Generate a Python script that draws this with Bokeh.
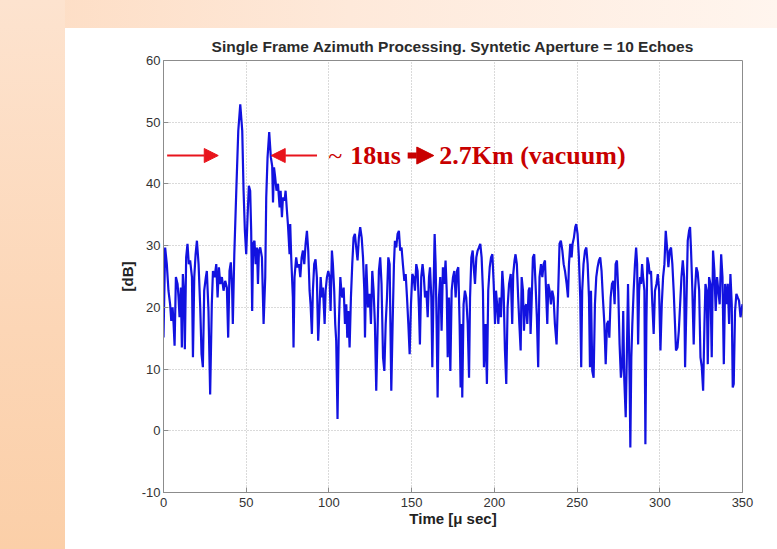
from bokeh.plotting import figure
from bokeh.models import (Arrow, NormalHead, Label, FixedTicker, Range1d, Spacer,
                          GlobalInlineStyleSheet)
from bokeh.layouts import row, column
from bokeh.embed import file_html
from bokeh.resources import INLINE

# ---------------- data ----------------
TITLE = "Single Frame Azimuth Processing. Syntetic Aperture = 10 Echoes"
X_LABEL = "Time [\u03bc sec]"
Y_LABEL = "[dB]"
X_TICKS = [0, 50, 100, 150, 200, 250, 300, 350]
Y_TICKS = [-10, 0, 10, 20, 30, 40, 50, 60]
Y_TICK_TEXT = {-10: "-10"}

T_US = [
    0.0, 1.0, 2.0, 3.0, 4.0, 4.7, 5.5, 6.1, 6.7, 7.5, 8.5, 9.1, 9.7, 10.5, 11.1, 11.7,
    12.5, 12.9, 13.7, 14.5, 15.3, 16.1, 17.2, 17.8, 18.6, 19.4, 20.2, 21.2, 22.2, 23.0,
    23.8, 24.6, 25.6, 26.2, 27.2, 28.2, 29.2, 29.9, 30.9, 31.9, 32.7, 33.5, 34.3, 35.3,
    36.3, 37.3, 38.3, 39.1, 39.9, 40.7, 41.5, 41.9, 42.8, 44.0, 45.2, 46.4, 47.6, 48.4,
    49.2, 50.0, 50.8, 51.6, 52.4, 53.0, 53.6, 54.2, 55.0, 55.7, 56.5, 57.1, 57.7, 58.5,
    59.5, 60.5, 61.5, 62.1, 62.9, 63.9, 64.9, 65.7, 66.2, 66.8, 67.5, 68.3, 69.2, 70.2,
    70.8, 71.6, 72.2, 73.2, 73.8, 74.6, 75.2, 76.2, 76.6, 77.2, 78.2, 78.6, 79.2, 80.2,
    81.0, 81.9, 82.7, 83.5, 84.3, 85.1, 85.9, 86.7, 87.5, 88.3, 88.9, 89.7, 90.3, 91.1,
    91.9, 92.7, 93.5, 94.4, 95.0, 95.8, 96.4, 97.4, 98.0, 98.8, 99.6, 100.4, 101.0,
    101.8, 102.4, 103.2, 103.8, 104.4, 105.2, 106.0, 106.9, 107.5, 108.1, 108.9, 109.7,
    110.5, 111.1, 111.7, 112.5, 113.3, 114.1, 114.9, 115.7, 116.5, 117.3, 118.1, 118.9,
    119.8, 120.6, 121.4, 121.8, 122.6, 123.6, 124.6, 125.4, 126.2, 127.0, 127.8, 128.6,
    129.4, 130.2, 131.0, 131.8, 132.7, 133.5, 134.3, 135.1, 135.9, 136.7, 137.7, 138.5,
    139.3, 139.9, 140.7, 141.5, 142.3, 143.1, 143.9, 144.7, 145.6, 146.4, 147.2, 148.0,
    148.8, 149.6, 150.4, 151.2, 152.0, 152.8, 153.6, 154.4, 155.0, 155.8, 156.6, 157.4,
    158.1, 158.9, 159.7, 160.5, 161.1, 161.9, 162.5, 163.1, 163.9, 164.5, 165.1, 165.7,
    166.5, 167.3, 168.1, 168.9, 169.7, 170.5, 171.2, 171.8, 172.6, 173.4, 174.2, 175.0,
    175.8, 176.6, 177.4, 178.2, 179.0, 179.6, 180.2, 180.6, 181.4, 182.2, 183.0, 183.9,
    184.7, 185.3, 186.1, 186.9, 187.7, 188.3, 189.1, 189.9, 190.7, 191.5, 192.3, 193.1,
    193.7, 194.7, 195.5, 196.3, 197.2, 198.0, 198.8, 199.6, 200.4, 201.0, 201.8, 202.4,
    203.2, 204.0, 204.8, 205.6, 206.4, 207.2, 208.0, 208.9, 209.9, 210.8, 211.4, 212.2,
    212.8, 213.6, 214.4, 215.1, 215.9, 216.5, 217.3, 217.9, 218.5, 219.3, 219.9, 220.7,
    221.3, 221.9, 222.5, 223.3, 224.1, 224.9, 225.7, 226.5, 227.3, 228.2, 229.0, 229.8,
    230.6, 231.4, 232.0, 232.6, 233.4, 234.2, 235.0, 235.8, 236.6, 237.6, 238.6, 239.4,
    240.2, 241.1, 241.9, 242.7, 243.7, 244.5, 245.1, 245.9, 246.7, 247.3, 248.1, 248.9,
    249.5, 250.3, 251.1, 251.9, 252.5, 253.1, 253.9, 254.8, 255.6, 256.4, 257.2, 257.8,
    258.4, 259.2, 260.0, 260.8, 261.6, 262.4, 263.2, 264.0, 264.8, 265.6, 266.5, 267.3,
    268.1, 268.9, 269.5, 270.3, 271.1, 271.9, 272.7, 273.3, 274.1, 274.9, 275.7, 276.5,
    277.3, 277.9, 278.5, 279.4, 280.2, 280.8, 281.2, 281.8, 282.2, 282.8, 283.4, 284.2,
    285.0, 285.7, 286.3, 286.9, 287.5, 288.1, 288.7, 289.3, 289.9, 290.7, 291.3, 291.9,
    292.5, 293.3, 293.9, 294.7, 295.5, 296.3, 297.1, 298.0, 298.8, 299.6, 300.4, 301.2,
    302.0, 302.8, 303.6, 304.4, 305.2, 306.0, 306.8, 307.6, 308.4, 309.2, 309.8, 310.7,
    311.5, 312.3, 313.1, 313.9, 314.7, 315.3, 316.1, 316.9, 317.7, 318.3, 318.9, 319.7,
    320.5, 321.3, 322.1, 322.9, 323.8, 324.6, 325.4, 326.2, 327.0, 327.6, 328.4, 329.0,
    329.8, 330.6, 331.4, 332.2, 333.0, 333.8, 334.6, 335.4, 336.2, 337.1, 337.9, 338.7,
    339.5, 340.3, 341.1, 341.9, 342.7, 343.5, 344.1, 344.7, 345.5, 346.3, 347.1, 347.9,
    348.8, 350.0,
]

DB = [
    15.1, 29.7, 27.0, 22.7, 20.5, 17.8, 20.0, 17.3, 13.8, 24.9, 23.8, 21.6, 18.4, 23.2, 13.5, 25.4,
    21.6, 13.2, 28.1, 30.3, 27.0, 27.6, 24.9, 11.9, 24.9, 28.6, 30.8, 27.0, 20.0, 12.4,
    10.3, 22.7, 24.9, 25.9, 19.4, 5.9, 20.5, 25.9, 24.9, 27.0, 21.6, 26.5, 23.8, 24.9,
    22.7, 24.3, 23.2, 15.1, 25.9, 27.3, 22.7, 17.3, 28.6, 38.9, 48.6, 52.9, 48.6, 38.9,
    32.4, 28.6, 34.6, 39.7, 38.9, 32.4, 19.4, 30.3, 30.8, 27.0, 29.7, 23.8, 29.2, 29.7,
    28.1, 17.3, 24.9, 37.8, 44.3, 48.4, 44.3, 42.9, 37.0, 42.7, 41.1, 38.9, 40.0, 36.2,
    38.9, 34.6, 37.8, 37.3, 38.9, 35.7, 33.5, 28.6, 33.5, 28.1, 21.6, 13.5, 24.9, 28.1,
    26.5, 27.0, 24.9, 28.1, 29.2, 27.0, 30.3, 32.4, 29.2, 22.7, 20.5, 15.7, 22.7, 27.0,
    27.8, 24.9, 14.6, 20.5, 24.9, 21.6, 23.2, 17.3, 22.7, 24.9, 25.9, 24.9, 19.4,
    29.2, 27.0, 22.7, 17.3, 14.6, 1.9, 17.3, 24.9, 22.7, 21.6, 23.2, 17.3,
    20.5, 15.1, 19.4, 13.5, 21.6, 27.0, 31.3, 31.9, 29.7, 27.6, 31.3, 33.0,
    31.3, 28.1, 22.7, 15.1, 27.0, 20.0, 22.2, 17.3, 25.9, 22.7, 17.3, 6.5,
    16.2, 25.9, 28.1, 23.8, 11.9, 9.7, 17.3, 21.6, 28.1, 27.0, 6.5, 17.3,
    27.0, 30.8, 29.7, 31.9, 32.4, 29.2, 29.7, 27.0, 24.3, 25.4, 21.6, 17.3,
    12.4, 20.5, 25.4, 24.9, 22.7, 27.0, 25.9, 20.0, 14.0, 24.9, 27.0, 24.9,
    21.6, 22.7, 18.4, 24.9, 26.5, 21.6, 10.3, 20.5, 31.9, 27.0, 17.3, 5.4,
    21.6, 24.9, 16.2, 26.5, 23.8, 27.6, 22.7, 11.9, 21.6, 9.7, 22.7, 24.9,
    25.9, 21.6, 25.9, 26.5, 17.3, 7.0, 17.3, 5.4, 20.5, 22.7, 21.6, 17.3,
    8.6, 21.6, 28.1, 29.2, 25.9, 23.8, 28.1, 29.2, 29.7, 30.3, 28.1, 22.7,
    10.3, 17.3, 7.6, 22.7, 26.5, 28.1, 28.6, 23.8, 17.3, 22.7, 20.0, 17.3,
    21.6, 18.4, 25.9, 22.7, 13.0, 7.6, 20.0, 23.8, 25.4, 17.3, 25.4, 27.6,
    28.6, 27.0, 21.6, 17.3, 13.0, 24.9, 22.7, 16.2, 20.0, 20.5, 17.3, 22.7,
    23.2, 15.7, 20.5, 28.1, 28.6, 23.8, 18.4, 10.3, 24.9, 27.0, 24.9, 27.0,
    27.6, 21.6, 17.3, 23.8, 22.7, 20.5, 22.7, 21.6, 17.3, 14.0, 22.7, 30.3,
    30.8, 29.2, 27.0, 25.9, 23.8, 21.6, 27.0, 30.3, 28.1, 30.3, 31.3, 33.0,
    33.5, 31.9, 28.1, 21.6, 10.3, 22.7, 27.0, 29.2, 29.7, 27.0, 21.6, 10.3,
    22.7, 9.7, 8.6, 20.5, 24.9, 26.5, 27.6, 28.1, 25.9, 21.6, 17.3, 10.8,
    17.3, 17.8, 15.1, 21.6, 23.8, 24.3, 20.5, 27.0, 27.6, 22.7, 14.0, 8.6,
    10.8, 19.4, 8.6, 2.2, 14.0, 23.8, 17.3, 7.6, -2.7, 11.9, 17.3, 22.7,
    27.0, 29.7, 27.0, 14.0, 22.7, 24.9, 23.8, 27.0, 24.9, 22.7, -2.2, 17.3,
    28.1, 27.0, 25.4, 25.9, 20.5, 15.7, 22.7, 23.8, 25.4, 22.7, 13.0, 20.5,
    24.9, 27.0, 32.4, 29.7, 26.5, 29.2, 29.7, 27.0, 22.7, 17.3, 13.0, 13.5,
    16.2, 20.5, 24.9, 27.6, 24.9, 10.3, 20.5, 30.8, 32.4, 33.0, 29.2, 22.7,
    14.0, 22.7, 26.5, 25.7, 22.7, 11.9, 10.3, 6.5, 17.3, 23.8, 22.7, 10.8,
    24.9, 23.8, 11.9, 29.2, 25.9, 19.4, 24.9, 22.7, 20.5, 28.6, 24.9, 10.8,
    23.8, 20.5, 23.8, 17.3, 25.4, 20.5, 7.0, 7.6, 19.4, 22.2, 21.6, 21.1,
    18.4, 20.5,
]

# annotation (data units: time in us, level in dB)
ANNOT_DB = 44.6
ANNOT_TEXT_BASE_DB = 44.6
LEFT_ARROW_T = (2.2, 33.1)
RIGHT_ARROW_T = (92.8, 65.1)
BIG_ARROW_T = (147.6, 163.4)
TILDE_T = 99.6
DELAY_T = 112.9
RESULT_T = 166.7
DELAY_TEXT = "18us"
RESULT_TEXT = "2.7Km (vacuum)"

# ---------------- figure ----------------
p = figure(width=712, height=521,
           x_range=Range1d(0, 350), y_range=Range1d(-10, 60),
           output_backend="svg", toolbar_location=None,
           min_border_left=98, min_border_right=35,
           min_border_top=32, min_border_bottom=57,
           background_fill_color="white", border_fill_color="white")

p.title.text = TITLE
p.title.align = "center"
p.title.text_font = "Liberation Sans"
p.title.text_font_size = "15.5px"
p.title.text_font_style = "bold"
p.title.text_color = "#2b2b2b"
p.title.standoff = 12

p.line(T_US, DB, line_color="#1212e0", line_width=2.2)

p.xaxis.ticker = FixedTicker(ticks=X_TICKS, minor_ticks=[])
p.yaxis.ticker = FixedTicker(ticks=Y_TICKS, minor_ticks=[])
p.yaxis.major_label_overrides = Y_TICK_TEXT
p.xaxis.axis_label = X_LABEL
p.yaxis.axis_label = Y_LABEL

for ax in (p.xaxis[0], p.yaxis[0]):
    ax.axis_line_color = "#8c8c8c"
    ax.major_tick_line_color = "#8c8c8c"
    ax.major_tick_in = 5
    ax.major_tick_out = 0
    ax.major_label_text_font = "Liberation Sans"
    ax.major_label_text_font_size = "13px"
    ax.major_label_text_color = "#333333"
    ax.axis_label_text_font = "Liberation Sans"
    ax.axis_label_text_font_size = "15px"
    ax.axis_label_text_font_style = "bold"
    ax.axis_label_text_color = "#222222"

p.xaxis.major_label_standoff = 5
p.xaxis.axis_label_standoff = 0
p.yaxis.major_label_standoff = 3
p.yaxis.axis_label_standoff = 3

p.grid.grid_line_color = "#b4b4b4"
p.grid.grid_line_dash = "1 2"
p.grid.grid_line_width = 1
p.outline_line_color = "#8c8c8c"
p.outline_line_width = 1

ARROW_RED = "#e8141c"
TEXT_RED = "#c80000"

p.add_layout(Arrow(x_start=LEFT_ARROW_T[0], y_start=ANNOT_DB,
                   x_end=LEFT_ARROW_T[1], y_end=ANNOT_DB,
                   line_color=ARROW_RED, line_width=2,
                   end=NormalHead(size=14, fill_color=ARROW_RED, line_color=ARROW_RED)))
p.add_layout(Arrow(x_start=RIGHT_ARROW_T[0], y_start=ANNOT_DB,
                   x_end=RIGHT_ARROW_T[1], y_end=ANNOT_DB,
                   line_color=ARROW_RED, line_width=2,
                   end=NormalHead(size=14, fill_color=ARROW_RED, line_color=ARROW_RED)))
# the heavy arrow between the two numbers
p.add_layout(Arrow(x_start=BIG_ARROW_T[0], y_start=ANNOT_DB,
                   x_end=BIG_ARROW_T[1], y_end=ANNOT_DB,
                   line_color=TEXT_RED, line_width=6,
                   end=NormalHead(size=17, fill_color=TEXT_RED, line_color=TEXT_RED)))

p.add_layout(Label(x=TILDE_T, y=ANNOT_TEXT_BASE_DB, text="~",
                   text_font="Liberation Serif", text_font_size="26px",
                   text_color=TEXT_RED, text_baseline="alphabetic", text_align="left"))
p.add_layout(Label(x=DELAY_T, y=ANNOT_TEXT_BASE_DB, text=DELAY_TEXT,
                   text_font="Liberation Serif", text_font_size="26px", text_font_style="bold",
                   text_color=TEXT_RED, text_baseline="alphabetic", text_align="left"))
p.add_layout(Label(x=RESULT_T, y=ANNOT_TEXT_BASE_DB, text=RESULT_TEXT,
                   text_font="Liberation Serif", text_font_size="26px", text_font_style="bold",
                   text_color=TEXT_RED, text_baseline="alphabetic", text_align="left"))

page_css = GlobalInlineStyleSheet(css="""
html {
  min-height: 100%;
  background:
    linear-gradient(to bottom, #fde3cf 0%, #fcd6b6 60%, #fbcfa8 100%) left top / 65px 100% no-repeat,
    linear-gradient(to right, #fddcc2 0%, #fee9da 45%, #fff5ee 100%) left top / 100% 28px no-repeat,
    #ffffff;
}
body { background: transparent; }
""")

layout = row(Spacer(width=65, height=521),
             column(Spacer(width=712, height=28), p),
             stylesheets=[page_css])

open("out.html", "w").write(file_html(layout, INLINE))
